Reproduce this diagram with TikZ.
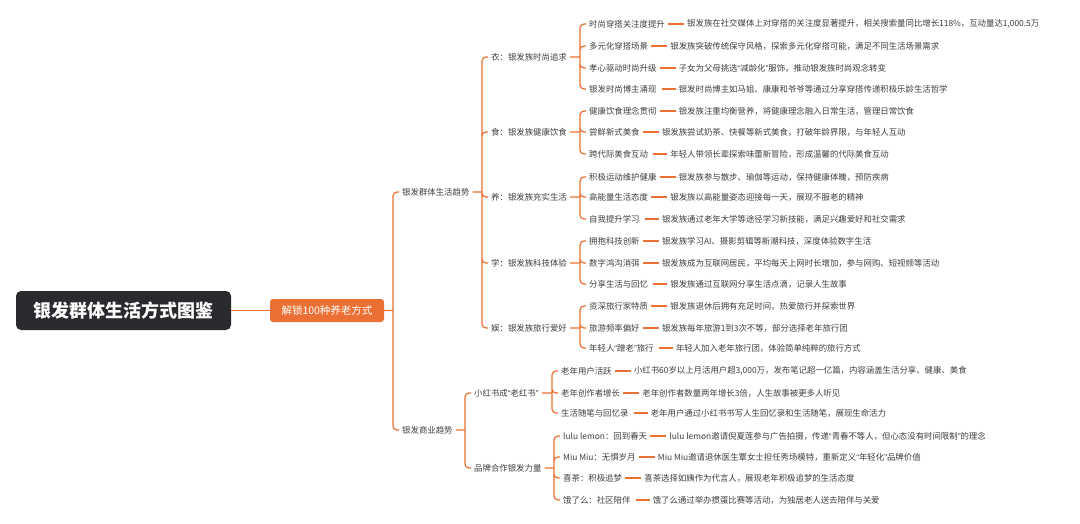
\documentclass[tikz,border=0pt]{standalone}
\usepackage{fontspec}
\setmainfont{Noto Sans CJK SC}
\newfontfamily\guilfont{Liberation Sans}
\newcommand{\citer}[1]{{\guilfont “}#1{\guilfont ”}}
\usetikzlibrary{positioning}
\definecolor{orangelien}{RGB}{234,112,52}
\definecolor{grisfonce}{RGB}{42,42,46}
\definecolor{gristexte}{RGB}{62,62,62}

\begin{document}
\begin{tikzpicture}[x=1pt,y=-1pt]
\tikzstyle{branche} = [draw=orangelien,line width=1.2pt,rounded corners=4pt] %liens en accolade
\tikzstyle{tiret} = [draw=orangelien,line width=1.3pt,shorten <=2pt] %liens vers les details
\tikzstyle{texte} = [anchor=west,inner xsep=3pt,inner ysep=1pt,text=gristexte,font=\fontsize{8.4}{10}\selectfont]
\useasboundingbox (0,0) rectangle (1080,524);

%racine et sous-titre
\node[fill=grisfonce,rounded corners=5pt,minimum width=215pt,minimum height=39pt,text=white,font=\fontsize{18}{20}\selectfont\bfseries] (R) at (123.5,310.5) {银发群体生活方式图鉴};
\node[fill=orangelien,rounded corners=3pt,minimum width=114pt,minimum height=23pt,text=white,font=\fontsize{10.5}{12}\selectfont] (T) at (327,310.5) {解锁100种养老方式};

%niveau 1
\node[texte] (V) at (399,192) {银发群体生活趋势};
\node[texte] (C) at (399,430) {银发商业趋势};

%niveau 2
\node[texte] (V1) at (488,57) {衣：银发族时尚追求};
\node[texte] (V2) at (488,132) {食：银发族健康饮食};
\node[texte] (V3) at (488,197) {养：银发族充实生活};
\node[texte] (V4) at (488,263) {学：银发族科技体验};
\node[texte] (V5) at (488,328) {娱：银发族旅行爱好};
\node[texte] (C1) at (471,393) {小红书成\citer{老红书}};
\node[texte] (C2) at (471,468) {品牌合作银发力量};

%niveau 3
\node[texte] (V1a) at (586,24) {时尚穿搭关注度提升};
\node[texte] (V1b) at (586,46) {多元化穿搭场景};
\node[texte] (V1c) at (586,68) {孝心驱动时尚升级};
\node[texte] (V1d) at (586,89) {银发时尚博主涌现};
\node[texte] (V2a) at (586,111) {健康饮食理念贯彻};
\node[texte] (V2b) at (586,132) {尝鲜新式美食};
\node[texte] (V2c) at (586,154) {跨代际美食互动};
\node[texte] (V3a) at (586,177) {积极运动维护健康};
\node[texte] (V3b) at (586,197) {高能量生活态度};
\node[texte] (V3c) at (586,219) {自我提升学习};
\node[texte] (V4a) at (586,241) {拥抱科技创新};
\node[texte] (V4b) at (586,263) {数字鸿沟消弭};
\node[texte] (V4c) at (586,284) {分享生活与回忆};
\node[texte] (V5a) at (586,306) {资深旅行家特质};
\node[texte] (V5b) at (586,328) {旅游频率偏好};
\node[texte] (V5c) at (586,348) {年轻人\citer{蹭老}旅行};
\node[texte] (C1a) at (558,371) {老年用户活跃};
\node[texte] (C1b) at (558,393) {老年创作者增长};
\node[texte] (C1c) at (558,413) {生活随笔与回忆录};
\node[texte] (C2a) at (560,436) {lulu lemon：回到春天};
\node[texte] (C2b) at (560,457) {Miu Miu：无惧岁月};
\node[texte] (C2c) at (560,478) {喜茶：积极追梦};
\node[texte] (C2d) at (560,500) {饿了么：社区陪伴};

%details
\node[texte,right=16pt of V1a] (DV1a) {银发族在社交媒体上对穿搭的关注度显著提升，相关搜索量同比增长118\%，互动量达1,000.5万};
\node[texte,right=16pt of V1b] (DV1b) {银发族突破传统保守风格，探索多元化穿搭可能，满足不同生活场景需求};
\node[texte,right=16pt of V1c] (DV1c) {子女为父母挑选\citer{减龄化}服饰，推动银发族时尚观念转变};
\node[texte,right=16pt of V1d] (DV1d) {银发时尚博主如马姐、康康和爷爷等通过分享穿搭传递积极乐龄生活哲学};
\node[texte,right=16pt of V2a] (DV2a) {银发族注重均衡营养，将健康理念融入日常生活，管理日常饮食};
\node[texte,right=16pt of V2b] (DV2b) {银发族尝试奶茶、快餐等新式美食，打破年龄界限，与年轻人互动};
\node[texte,right=16pt of V2c] (DV2c) {年轻人带领长辈探索味蕾新冒险，形成温馨的代际美食互动};
\node[texte,right=16pt of V3a] (DV3a) {银发族参与散步、瑜伽等运动，保持健康体魄，预防疾病};
\node[texte,right=16pt of V3b] (DV3b) {银发族以高能量姿态迎接每一天，展现不服老的精神};
\node[texte,right=16pt of V3c] (DV3c) {银发族通过老年大学等途径学习新技能，满足兴趣爱好和社交需求};
\node[texte,right=16pt of V4a] (DV4a) {银发族学习AI、摄影剪辑等新潮科技，深度体验数字生活};
\node[texte,right=16pt of V4b] (DV4b) {银发族成为互联网居民，平均每天上网时长增加，参与网购、短视频等活动};
\node[texte,right=16pt of V4c] (DV4c) {银发族通过互联网分享生活点滴，记录人生故事};
\node[texte,right=16pt of V5a] (DV5a) {银发族退休后拥有充足时间，热爱旅行并探索世界};
\node[texte,right=16pt of V5b] (DV5b) {银发族每年旅游1到3次不等，部分选择老年旅行团};
\node[texte,right=16pt of V5c] (DV5c) {年轻人加入老年旅行团，体验简单纯粹的旅行方式};
\node[texte,right=16pt of C1a] (DC1a) {小红书60岁以上月活用户超3,000万，发布笔记超一亿篇，内容涵盖生活分享、健康、美食};
\node[texte,right=16pt of C1b] (DC1b) {老年创作者数量两年增长3倍，人生故事被更多人听见};
\node[texte,right=16pt of C1c] (DC1c) {老年用户通过小红书书写人生回忆录和生活随笔，展现生命活力};
\node[texte,right=16pt of C2a] (DC2a) {lulu lemon邀请倪夏莲参与广告拍摄，传递\citer{青春不等人，但心态没有时间限制}的理念};
\node[texte,right=16pt of C2b] (DC2b) {Miu Miu邀请退休医生覃女士担任秀场模特，重新定义\citer{年轻化}品牌价值};
\node[texte,right=16pt of C2c] (DC2c) {喜茶选择如姨作为代言人，展现老年积极追梦的生活态度};
\node[texte,right=16pt of C2d] (DC2d) {饿了么通过举办掼蛋比赛等活动，为独居老人送去陪伴与关爱};

%points des accolades
\coordinate (b0) at ([xshift=-6pt]V.west |- T.east);
\coordinate (bV) at ([xshift=-6pt]V1.west |- V.east);
\coordinate (bC) at ([xshift=-6pt]C1.west |- C.east);
\coordinate (b1) at ([xshift=-6pt]V1a.west |- V1.east);
\coordinate (b2) at ([xshift=-6pt]V2a.west |- V2.east);
\coordinate (b3) at ([xshift=-6pt]V3a.west |- V3.east);
\coordinate (b4) at ([xshift=-6pt]V4a.west |- V4.east);
\coordinate (b5) at ([xshift=-6pt]V5a.west |- V5.east);
\coordinate (c1) at ([xshift=-6pt]C1a.west |- C1.east);
\coordinate (c2) at ([xshift=-6pt]C2a.west |- C2.east);

%tracer les liens
\draw[branche] (R.east) -- (T.west);
\draw[branche] (T.east) -- (b0) (b0) |- (V.west) (b0) |- (C.west);
\draw[branche] (V.east) -- (bV) (bV) |- (V1.west) (bV) |- (V2.west) (bV) |- (V3.west) (bV) |- (V4.west) (bV) |- (V5.west);
\draw[branche] (C.east) -- (bC) (bC) |- (C1.west) (bC) |- (C2.west);
\draw[branche] (V1.east) -- (b1) (b1) |- (V1a.west) (b1) |- (V1b.west) (b1) |- (V1c.west) (b1) |- (V1d.west);
\draw[branche] (V2.east) -- (b2) (b2) |- (V2a.west) (b2) |- (V2b.west) (b2) |- (V2c.west);
\draw[branche] (V3.east) -- (b3) (b3) |- (V3a.west) (b3) |- (V3b.west) (b3) |- (V3c.west);
\draw[branche] (V4.east) -- (b4) (b4) |- (V4a.west) (b4) |- (V4b.west) (b4) |- (V4c.west);
\draw[branche] (V5.east) -- (b5) (b5) |- (V5a.west) (b5) |- (V5b.west) (b5) |- (V5c.west);
\draw[branche] (C1.east) -- (c1) (c1) |- (C1a.west) (c1) |- (C1b.west) (c1) |- (C1c.west);
\draw[branche] (C2.east) -- (c2) (c2) |- (C2a.west) (c2) |- (C2b.west) (c2) |- (C2c.west) (c2) |- (C2d.west);

%tirets vers les details
\draw[tiret] (V1a.east) -- (DV1a.west) (V1b.east) -- (DV1b.west) (V1c.east) -- (DV1c.west) (V1d.east) -- (DV1d.west);
\draw[tiret] (V2a.east) -- (DV2a.west) (V2b.east) -- (DV2b.west) (V2c.east) -- (DV2c.west);
\draw[tiret] (V3a.east) -- (DV3a.west) (V3b.east) -- (DV3b.west) (V3c.east) -- (DV3c.west);
\draw[tiret] (V4a.east) -- (DV4a.west) (V4b.east) -- (DV4b.west) (V4c.east) -- (DV4c.west);
\draw[tiret] (V5a.east) -- (DV5a.west) (V5b.east) -- (DV5b.west) (V5c.east) -- (DV5c.west);
\draw[tiret] (C1a.east) -- (DC1a.west) (C1b.east) -- (DC1b.west) (C1c.east) -- (DC1c.west);
\draw[tiret] (C2a.east) -- (DC2a.west) (C2b.east) -- (DC2b.west) (C2c.east) -- (DC2c.west) (C2d.east) -- (DC2d.west);
\end{tikzpicture}
\end{document}
